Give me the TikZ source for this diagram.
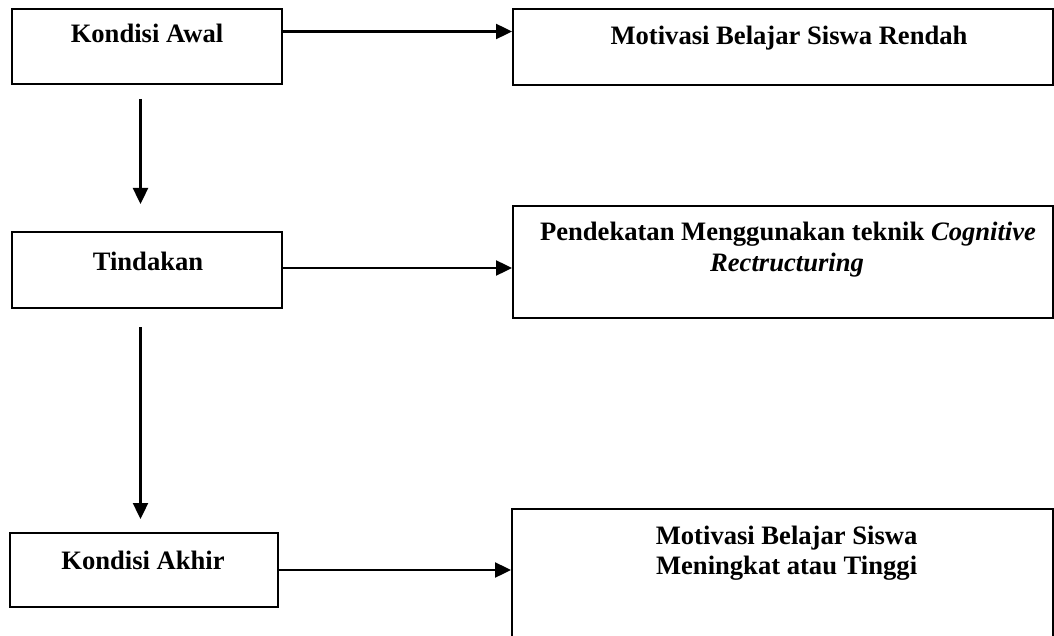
\documentclass[tikz,border=0pt]{standalone}
\usepackage{fontspec}
\setmainfont{Liberation Serif}
\usepackage{tikz}
\usetikzlibrary{arrows.meta, positioning, calc}

\tikzset{
  box/.style={draw, line width=1pt, inner sep=0pt, minimum width=#1},
  box/.default=135pt,
  lbl/.style={anchor=base, inner sep=0pt, font=\bfseries\fontsize{13.3}{16}\selectfont},
  flow/.style={-{Triangle[length=8pt,width=7.5pt]}, line width=1.2pt}
}

\begin{document}
\begin{tikzpicture}[x=0.5pt, y=-0.5pt]
  \clip (0,0) rectangle (1054,636);

  % Left column
  \node[box, minimum height=37.5pt] (awal) at (147, 46.5) {};
  \node[box, minimum height=38pt] (tindakan) at (147, 270) {};
  \node[box=134pt, minimum height=37pt] (akhir) at (144, 570) {};

  \node[lbl] (awaltxt) at (147, 42.5) {Kondisi Awal};
  \node[lbl] (tindakantxt) at (148, 270.5) {Tindakan};
  \node[lbl] (akhirtxt) at (143, 569) {Kondisi Akhir};

  % Right column
  \node[box=270pt, minimum height=38pt] (rendah) at (783, 47) {};
  \node[box=270pt, minimum height=56pt] (pendekatan) at (783, 262) {};
  \node[box=270.5pt, minimum height=100pt] (tinggi) at (782.5, 609) {};

  \node[lbl] (rendahtxt) at (789, 45) {Motivasi Belajar Siswa Rendah};
  \node[lbl] (pendekatantxt) at (788, 240.5) {Pendekatan Menggunakan teknik \textit{Cognitive}};
  \node[lbl] (pendekatantxtb) at (787, 271) {\textit{Rectructuring}};
  \node[lbl] (tinggitxt) at (786.6, 544.5) {Motivasi Belajar Siswa};
  \node[lbl] (tinggitxtb) at (786.6, 574.5) {Meningkat atau Tinggi};

  % Horizontal arrows
  \draw[flow] ([yshift=7.5pt]awal.east) -- ([yshift=7.5pt]awal.east -| rendah.west);
  \draw[flow] ([yshift=1pt]tindakan.east) -- ([yshift=1pt]tindakan.east -| pendekatan.west);
  \draw[flow] (akhir.east) -- (akhir.east -| tinggi.west);

  % Vertical arrows
  \coordinate (downa) at ([xshift=-3.25pt,yshift=-7pt]awal.south);
  \coordinate (downb) at ([xshift=-3.25pt,yshift=-9pt]tindakan.south);
  \draw[flow] (downa) -- ([yshift=13.5pt]downa |- tindakan.north);
  \draw[flow] (downb) -- ([yshift=6.5pt]downb |- akhir.north);
\end{tikzpicture}
\end{document}
